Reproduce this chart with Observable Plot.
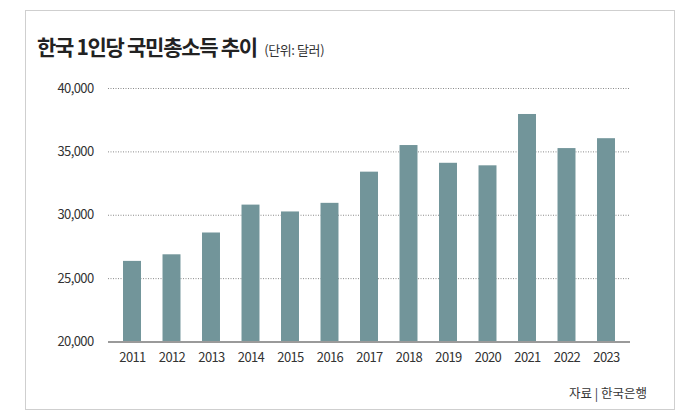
<!DOCTYPE html>
<html><head><meta charset="utf-8">
<script src="https://cdn.jsdelivr.net/npm/d3@7"></script>
<script src="https://cdn.jsdelivr.net/npm/@observablehq/plot@0.6"></script>
<style>
html,body{margin:0;padding:0;background:#fff;}
#wrap{position:relative;width:700px;height:420px;overflow:hidden;font-family:"Noto Sans CJK KR","Noto Sans",sans-serif;}
#frame{position:absolute;left:25px;top:10px;width:648px;height:398px;border:1px solid #cfcfcf;}
#title{position:absolute;left:37px;top:36px;line-height:1;font-size:21px;font-weight:700;color:#222;letter-spacing:-1.3px;white-space:nowrap;}
#title span{font-size:13px;font-weight:400;color:#333;letter-spacing:-0.4px;margin-left:4px;}
#chart{position:absolute;left:0;top:70px;}
#source{position:absolute;right:53px;top:387px;line-height:1;font-size:12.5px;color:#333;white-space:nowrap;}
</style></head>
<body>
<div id="wrap">
<div id="frame"></div>
<div id="title">한국 1인당 국민총소득 추이 <span>(단위: 달러)</span></div>
<div id="chart"></div>
<div id="source">자료 | 한국은행</div>
</div>
<script>
const years = ["2011","2012","2013","2014","2015","2016","2017","2018","2019","2020","2021","2022","2023"];
const gni = [26360, 26880, 28600, 30800, 30260, 30940, 33400, 35500, 34100, 33900, 37950, 35260, 36040];
const yTicks = [20000, 25000, 30000, 35000, 40000];
const gridTicks = [25000, 30000, 35000, 40000];

const data = years.map((y, i) => ({year: y, value: gni[i]}));

const chart = Plot.plot({
  width: 700,
  height: 310,
  marginLeft: 108,
  marginRight: 70,
  marginTop: 18,
  marginBottom: 38.5,
  style: {fontFamily: "'Noto Sans CJK KR', 'Noto Sans', sans-serif", fontSize: "13px", color: "#333", background: "transparent", letterSpacing: "-0.6px"},
  x: {domain: years, paddingInner: 0.545, paddingOuter: 0.38, round: false, label: null},
  y: {domain: [20000, 40000], label: null},
  marks: [
    Plot.ruleY(gridTicks, {stroke: "#8a8a8a", strokeWidth: 1, strokeDasharray: "1,1.5"}),
    Plot.barY(data, {x: "year", y1: 20000, y2: "value", fill: "#72959a"}),
    Plot.ruleY([20000], {stroke: "#9a9a9a", strokeWidth: 2}),
    Plot.axisY(yTicks, {tickSize: 0, tickPadding: 15, tickFormat: d3.format(","), fill: "#333", label: null}),
    Plot.axisX(years, {tickSize: 0, tickPadding: 11, fill: "#333", label: null})
  ]
});
document.getElementById("chart").appendChild(chart);
</script>
</body></html>
